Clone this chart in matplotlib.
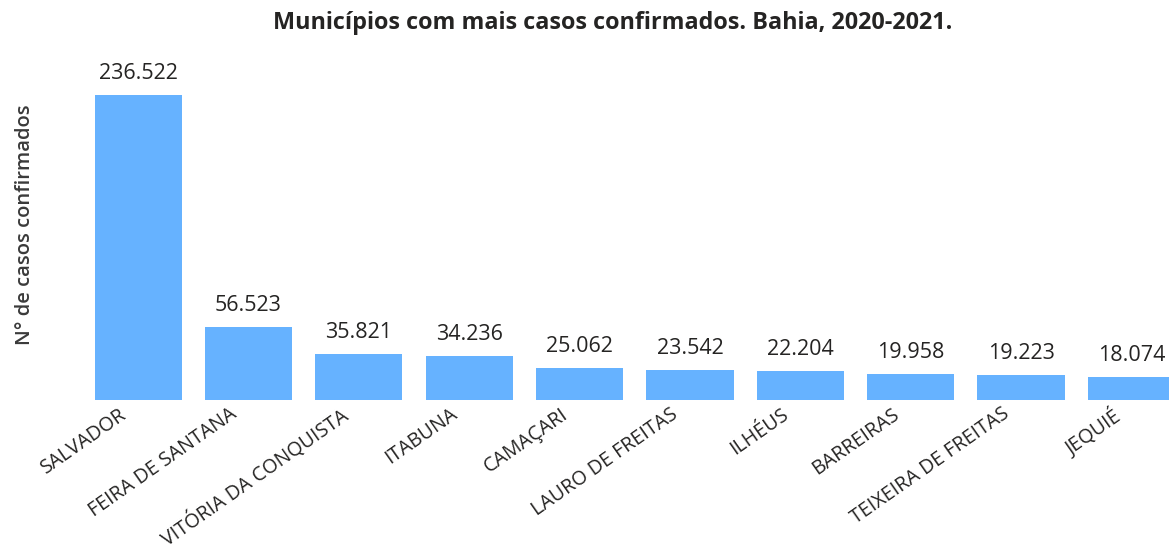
import matplotlib.pyplot as plt
import matplotlib.transforms as mtransforms
import numpy as np

plt.rcParams['font.family'] = ['Open Sans', 'DejaVu Sans']

# Dados
municipios = ['SALVADOR', 'FEIRA DE SANTANA', 'VITÓRIA DA CONQUISTA', 'ITABUNA',
              'CAMAÇARI', 'LAURO DE FREITAS', 'ILHÉUS', 'BARREIRAS',
              'TEIXEIRA DE FREITAS', 'JEQUIÉ']
casos = [236522, 56523, 35821, 34236, 25062, 23542, 22204, 19958, 19223, 18074]
rotulos = ['236.522', '56.523', '35.821', '34.236', '25.062', '23.542',
           '22.204', '19.958', '19.223', '18.074']

cor_barra = '#66B2FF'
cor_texto = '#252423'

fig = plt.figure(figsize=(11.69, 5.53), dpi=100)
ax = fig.add_axes([0.071, 0.2767, 0.944, 0.6064])

x = np.arange(len(municipios))
bars = ax.bar(x, casos, width=0.79, color=cor_barra)

for bar, txt in zip(bars, rotulos):
    ax.annotate(txt, (bar.get_x() + bar.get_width() / 2, bar.get_height()),
                xytext=(0, 8), textcoords='offset points',
                ha='center', va='bottom', fontsize=15.5, color=cor_texto)

ax.set_xlim(-0.5, len(municipios) - 0.5)
ax.set_ylim(0, 260000)
ax.set_xticks(x)
ax.set_xticklabels(municipios, rotation=35, ha='right', va='top',
                   rotation_mode='anchor', fontsize=14.2, color=cor_texto)
ax.tick_params(axis='x', length=0, pad=3)
# desloca os rótulos para a esquerda
desloc = mtransforms.ScaledTranslation(-14 / 72, 0, fig.dpi_scale_trans)
for lbl in ax.get_xticklabels():
    lbl.set_transform(lbl.get_transform() + desloc)
ax.set_yticks([])
for s in ax.spines.values():
    s.set_visible(False)

fig.text(0.524, 0.958, 'Municípios com mais casos confirmados. Bahia, 2020-2021.',
         ha='center', va='center', fontsize=16.8, fontweight='bold', color=cor_texto)
fig.text(0.021, 0.593, 'N° de casos confirmados', rotation=90,
         ha='center', va='center', fontsize=14.5, fontweight='semibold', color='#3a3a3a')

fig.savefig('out.png', dpi=100, facecolor='white')
